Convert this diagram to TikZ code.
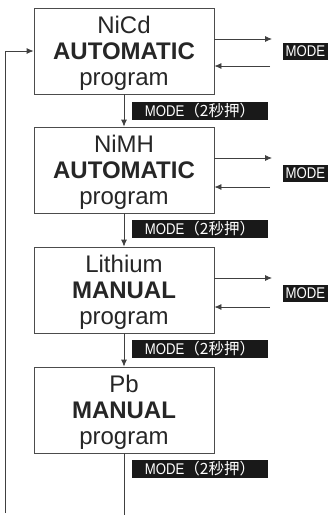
\documentclass[tikz,border=0pt]{standalone}
\usepackage{fontspec}
\setmainfont{Liberation Sans}
\newfontfamily\modefont[FakeStretch=0.85]{Liberation Sans}
\newfontfamily\cjkfont{Noto Sans CJK JP}
\usetikzlibrary{arrows.meta}
\newcommand{\topstrut}{\rule{0pt}{21pt}}
\begin{document}
\begin{tikzpicture}[x=1pt,y=-1pt,
  prog/.style={draw=black!70, line width=0.8pt, fill=white, minimum width=180pt, minimum height=86pt,
    inner sep=0pt, align=center, text=black!85, font=\fontsize{24}{26}\selectfont},
  holdlbl/.style={fill=black!90, text=white, minimum width=136pt, minimum height=18pt, inner sep=0pt,
    font=\fontsize{15.5}{16}\selectfont},
  modelbl/.style={fill=black!90, text=white, minimum width=45pt, minimum height=17pt, inner sep=0pt,
    font=\modefont\fontsize{15.5}{16}\selectfont},
  conn/.style={draw=black!75, line width=0.8pt, -{Latex[length=7pt,width=6pt]}},
  plain/.style={draw=black!75, line width=0.8pt}]
\useasboundingbox (0,0) rectangle (330,515);

\node[prog] (b1) at (124,51) {\topstrut NiCd\\\textbf{AUTOMATIC}\\program};
\node[prog] (b2) at (124,170) {\topstrut NiMH\\\textbf{AUTOMATIC}\\program};
\node[prog] (b3) at (124,290) {\topstrut Lithium\\\textbf{MANUAL}\\program};
\node[prog] (b4) at (124,410) {\topstrut Pb\\\textbf{MANUAL}\\program};

\node[holdlbl] (h1) at (200,111) {{\modefont MODE}{\cjkfont （2秒押）}};
\node[holdlbl] (h2) at (200,229) {{\modefont MODE}{\cjkfont （2秒押）}};
\node[holdlbl] (h3) at (200,349) {{\modefont MODE}{\cjkfont （2秒押）}};
\node[holdlbl] (h4) at (200,469) {{\modefont MODE}{\cjkfont （2秒押）}};

\node[modelbl] (m1) at (305.5,51.5) {MODE};
\node[modelbl] (m2) at (305.5,173) {MODE};
\node[modelbl] (m3) at (305.5,293.5) {MODE};

\draw[conn] (b1.south) -- (b2.north);
\draw[conn] (b2.south) -- (b3.north);
\draw[conn] (b3.south) -- (b4.north);
\coordinate (bend) at (124,515);
\draw[plain] (b4.south) -- (bend);

\coordinate (lb) at (5,513);
\draw[conn] (lb) |- (b1.west);

\coordinate (o1) at (272,39);
\coordinate (i1) at (270,66);
\coordinate (o2) at (272,158);
\coordinate (i2) at (270,187);
\coordinate (o3) at (272,278);
\coordinate (i3) at (270,307);
\draw[conn] (b1.east |- o1) -- (o1);
\draw[conn] (i1) -- (b1.east |- i1);
\draw[conn] (b2.east |- o2) -- (o2);
\draw[conn] (i2) -- (b2.east |- i2);
\draw[conn] (b3.east |- o3) -- (o3);
\draw[conn] (i3) -- (b3.east |- i3);
\end{tikzpicture}
\end{document}
